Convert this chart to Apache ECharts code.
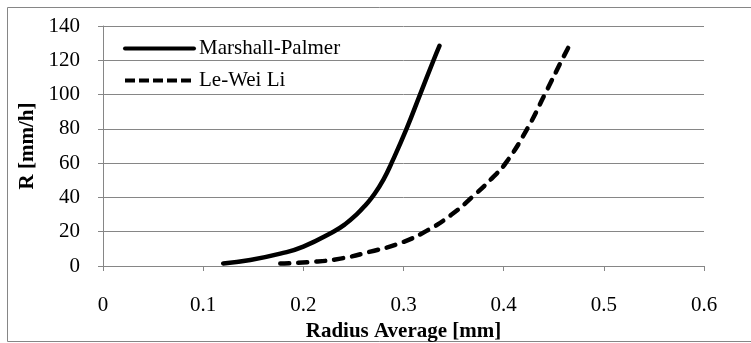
<!DOCTYPE html>
<html>
<head>
<meta charset="utf-8">
<script src="https://cdn.jsdelivr.net/npm/echarts@6/dist/echarts.min.js"></script>
<style>
  html, body { margin: 0; padding: 0; background: #fff; }
  #chart { width: 751px; height: 343px; }
</style>
</head>
<body>
<div id="chart"></div>
<script>
// rain rate vs average drop radius, two models
const mpRadius = [0.120, 0.147, 0.177, 0.200, 0.230, 0.242, 0.253, 0.262, 0.271, 0.2805, 0.288, 0.303, 0.3165, 0.330, 0.336];
const mpRate   = [1.5, 3.5, 7.2, 11.3, 20, 24.5, 30, 35.5, 42, 51, 60, 80, 100, 120, 128.5];
const lwRadius = [0.177, 0.207, 0.237, 0.267, 0.296, 0.323, 0.348, 0.371, 0.388, 0.402, 0.4235, 0.441, 0.458, 0.4655];
const lwRate   = [1.5, 2.3, 4.3, 8.4, 13.2, 20.5, 30, 41.5, 51, 60, 80, 100, 120, 128.5];

const seriesNames = ["Marshall-Palmer", "Le-Wei Li"];
const xName = "Radius Average [mm]";
const yName = "R [mm/h]";

const FONT = "'Liberation Serif', 'Times New Roman', serif";
const GRAY = "#868686";

const zip = (xs, ys) => xs.map((x, i) => [x, ys[i]]);

const chart = echarts.init(document.getElementById("chart"));
chart.setOption({
  animation: false,
  textStyle: { fontFamily: FONT, color: "#000" },
  grid: { left: 103, right: 47, top: 26, bottom: 77, containLabel: false, outerBoundsMode: "none" },
  graphic: [
    {
      type: "rect",
      shape: { x: 7.5, y: 7.5, width: 800, height: 334 },
      style: { fill: "none", stroke: GRAY, lineWidth: 1 },
      silent: true,
    },
  ],
  legend: {
    orient: "vertical",
    left: 123,
    top: 38,
    padding: 0,
    itemWidth: 69,
    itemHeight: 14,
    itemGap: 11,
    itemStyle: { opacity: 0 },
    lineStyle: { width: 4 },
    textStyle: { fontFamily: FONT, fontSize: 21, color: "#000" },
    data: [
      { name: seriesNames[0] },
      { name: seriesNames[1], lineStyle: { width: 4, type: [10, 4], cap: "butt" } },
    ],
  },
  xAxis: {
    type: "value",
    min: 0,
    max: 0.6,
    interval: 0.1,
    name: xName,
    nameLocation: "middle",
    nameGap: 53,
    nameTextStyle: { fontFamily: FONT, fontSize: 21, fontWeight: "bold", color: "#000" },
    axisLine: { show: true, lineStyle: { color: GRAY, width: 1 } },
    axisTick: { show: true, length: 5, lineStyle: { color: GRAY } },
    axisLabel: { fontFamily: FONT, fontSize: 21, color: "#000", margin: 29 },
    splitLine: { show: false },
  },
  yAxis: {
    type: "value",
    min: 0,
    max: 140,
    interval: 20,
    name: yName,
    nameLocation: "middle",
    nameGap: 64,
    nameRotate: 90,
    nameTextStyle: { fontFamily: FONT, fontSize: 21, fontWeight: "bold", color: "#000" },
    axisLine: { show: true, lineStyle: { color: GRAY, width: 1 } },
    axisTick: { show: true, length: 5, lineStyle: { color: GRAY } },
    axisLabel: { fontFamily: FONT, fontSize: 21, color: "#000", margin: 23 },
    splitLine: { show: true, lineStyle: { color: GRAY, width: 1 } },
  },
  series: [
    {
      name: seriesNames[0],
      type: "line",
      data: zip(mpRadius, mpRate),
      symbol: "none",
      smooth: 0.5,
      lineStyle: { color: "#000", width: 4.5, cap: "round", join: "round" },
      itemStyle: { color: "#000" },
    },
    {
      name: seriesNames[1],
      type: "line",
      data: zip(lwRadius, lwRate),
      symbol: "none",
      smooth: 0.5,
      lineStyle: { color: "#000", width: 4.5, type: [9, 9], cap: "round", join: "round" },
      itemStyle: { color: "#000" },
    },
  ],
});
</script>
</body>
</html>
